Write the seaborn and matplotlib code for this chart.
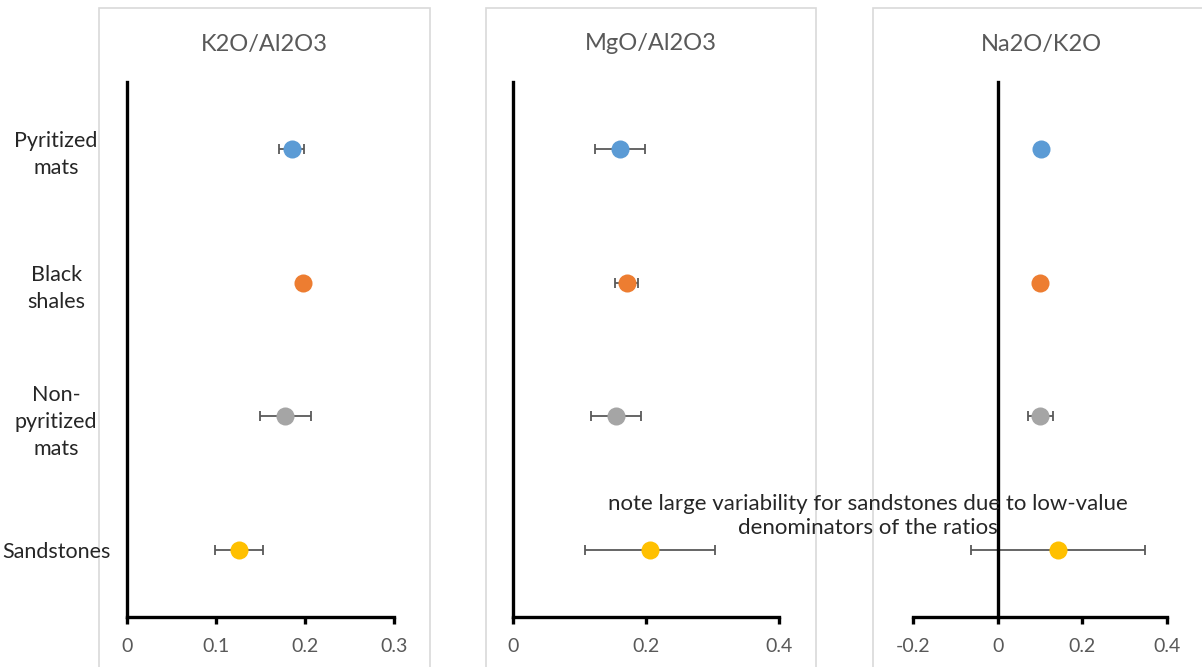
import matplotlib
matplotlib.use("Agg")
import matplotlib.pyplot as plt
import seaborn as sns
import pandas as pd
from matplotlib.patches import Rectangle

# ---- data ----
categories = ["Pyritized\nmats", "Black\nshales", "Non-\npyritized\nmats", "Sandstones"]
colors = ["#5B9BD5", "#ED7D31", "#A5A5A5", "#FFC000"]

titles = ["K2O/Al2O3", "MgO/Al2O3", "Na2O/K2O"]

k2o_al2o3 = [0.185, 0.198, 0.178, 0.126]
k2o_al2o3_err = [0.014, 0.0, 0.029, 0.027]

mgo_al2o3 = [0.161, 0.171, 0.155, 0.206]
mgo_al2o3_err = [0.038, 0.017, 0.038, 0.098]

na2o_k2o = [0.102, 0.101, 0.101, 0.143]
na2o_k2o_err = [0.0, 0.0, 0.029, 0.205]

xlims = [(0, 0.3), (0, 0.4), (-0.2, 0.4)]
xticks = [[0, 0.1, 0.2, 0.3], [0, 0.2, 0.4], [-0.2, 0, 0.2, 0.4]]
xticklabels = [["0", "0.1", "0.2", "0.3"], ["0", "0.2", "0.4"], ["-0.2", "0", "0.2", "0.4"]]

note = "note large variability for sandstones due to low-value\ndenominators of the ratios"

# ---- style ----
sns.set_theme(style="white")
plt.rcParams["font.family"] = ["Lato", "DejaVu Sans"]

W, H = 1202, 667
fig = plt.figure(figsize=(W / 100, H / 100), dpi=100)

boxes = [(99, 430), (486, 816), (873, 1210)]
axes_px = [(127, 394), (513, 779), (913, 1167)]
ax_top, ax_bot = 82, 617

series = [(k2o_al2o3, k2o_al2o3_err), (mgo_al2o3, mgo_al2o3_err), (na2o_k2o, na2o_k2o_err)]

for i in range(3):
    bl, br = boxes[i]
    fig.patches.append(Rectangle((bl / W, -0.05), (br - bl) / W, 1.05 - 8 / H,
                                 transform=fig.transFigure, facecolor="white",
                                 edgecolor="#D9D9D9", linewidth=1.2, zorder=-5))
    fig.text((bl + br) / 2 / W, 1 - 44 / H, titles[i], ha="center", va="center",
             fontsize=17, color="#595959")

    l, r = axes_px[i]
    ax = fig.add_axes([l / W, 1 - ax_bot / H, (r - l) / W, (ax_bot - ax_top) / H])
    ax.set_zorder(2)
    ax.patch.set_alpha(0)
    vals, errs = series[i]
    df = pd.DataFrame({"category": categories, "value": vals})
    ax.errorbar(vals, range(len(categories)), xerr=errs, fmt="none",
                ecolor="#595959", elinewidth=1.3, capsize=3.5, capthick=1.3, zorder=2)
    sns.stripplot(data=df, x="value", y="category", hue="category", palette=colors,
                  order=categories, jitter=False, size=13, linewidth=0, orient="h",
                  legend=False, ax=ax, zorder=3)
    ax.set_xlim(*xlims[i])
    ax.set_ylim(3.5, -0.5)
    ax.set_xticks(xticks[i])
    ax.set_xticklabels(xticklabels[i])
    ax.set_xlabel("")
    ax.set_ylabel("")
    for s in ["top", "right"]:
        ax.spines[s].set_visible(False)
    for s in ["left", "bottom"]:
        ax.spines[s].set_color("black")
        ax.spines[s].set_linewidth(2.4)
    if xlims[i][0] < 0:
        ax.spines["left"].set_position(("data", 0))
    ax.tick_params(axis="x", which="both", direction="out", length=5, width=2.4,
                   color="black", labelsize=14, labelcolor="#595959", pad=10, bottom=True)
    ax.tick_params(axis="y", length=0, labelsize=15.5, labelcolor="#262626")
    if i == 0:
        for t in ax.get_yticklabels():
            t.set_ha("center")
            t.set_multialignment("center")
            t.set_linespacing(1.45)
        ax.tick_params(axis="y", pad=51)
    else:
        ax.set_yticklabels([])

fig.text(868 / W, 1 - 516 / H, note, ha="center", va="center", fontsize=16,
         color="#262626", linespacing=1.25, zorder=10)

fig.savefig("out.png", dpi=100)
